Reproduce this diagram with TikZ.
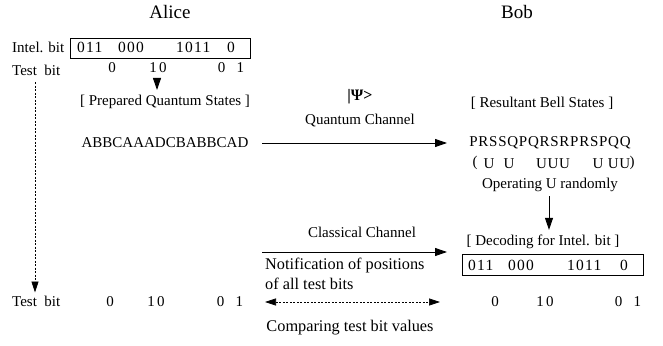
\documentclass[tikz,border=0pt]{standalone}
\usepackage{fontspec}
\setmainfont{Liberation Serif}
\usetikzlibrary{arrows.meta}
\begin{document}
\begin{tikzpicture}[x=1pt,y=-1pt,
  txt/.style={inner sep=0pt,font=\fontsize{15}{17}\selectfont},
  lbl/.style={inner sep=0pt,font=\fontsize{15}{17}\selectfont},
  lbll/.style={inner sep=0pt,font=\fontsize{16.3}{18}\selectfont},
  big/.style={inner sep=0pt,font=\fontsize{19}{21}\selectfont},
  bits/.style={inner sep=0pt,anchor=west,font=\fontsize{15.5}{17}\selectfont\addfontfeature{LetterSpace=8}},
  arr/.style={-{Triangle[length=12pt,width=8pt]},line width=0.9pt},
  darr/.style={dashed,line width=0.7pt,dash pattern=on 2pt off 1.5pt},
  bitbox/.style={draw,line width=0.8pt,inner sep=0pt}]
\useasboundingbox (0,0) rectangle (663,345);
% headers
\node[big] (alice) at (170,12) {Alice};
\node[big] (bob) at (517,12) {Bob};
% Alice top
\node[txt,anchor=west] (intel) at (12,47) {Intel. bit};
\node[bitbox,minimum width=180pt,minimum height=20pt,anchor=west] (abox) at (70,48) {};
\node[bits] (a1) at (77,47) {011};
\node[bits] (a2) at (118,47) {000};
\node[bits] (a3) at (176,47) {1011};
\node[bits] (a4) at (227,47) {0};
\node[txt,anchor=west] (tb1) at (12,70) {Test\ \ bit};
\node[txt] (t1a) at (112,68) {0};
\node[txt] (t1b) at (158,68) {1\,0};
\node[txt] (t1c) at (231,68) {0\ \ \ 1};
\coordinate (ar1s) at (157,78);
\node[lbl] (prep) at (165,102) {[ Prepared Quantum States ]};
\draw[arr] (ar1s) -- ([yshift=5pt]prep.north -| ar1s);
\node[txt] (abb) at (165,143) {ABBCAAADCBABBCAD};
% quantum channel
\node[txt,font=\fontsize{16}{18}\selectfont\bfseries] (psi) at (360,97) {|Ψ>};
\node[lbl] (qc) at (360,121) {Quantum Channel};
\coordinate (qs) at (262,143);
\coordinate (qe) at (447,143);
\draw[arr] (qs) -- (qe);
% Bob
\node[lbl] (res) at (542,103) {[ Resultant Bell States ]};
\node[txt,font=\fontsize{15}{17}\selectfont\addfontfeature{LetterSpace=5}] (prs) at (550,143) {PRSSQPQRSRPRSPQQ};
\node[txt] (pl) at (475,163) {(};
\node[txt] (u1) at (489,164) {U};
\node[txt] (u2) at (509,164) {U};
\node[txt,font=\fontsize{15}{17}\selectfont\addfontfeature{LetterSpace=4}] (u3) at (553,164) {UUU};
\node[txt] (u4) at (598,164) {U};
\node[txt,font=\fontsize{15}{17}\selectfont\addfontfeature{LetterSpace=4}] (u5) at (619,164) {UU};
\node[txt] (pr) at (632,163) {)};
\node[lbl] (op) at (550,185) {Operating U randomly};
\node[lbl] (dec) at (543,242) {[ Decoding for Intel. bit ]};
\coordinate (ar2s) at (549,196);
\draw[arr] (ar2s) -- ([yshift=5pt]dec.north -| ar2s);
\node[bitbox,minimum width=181pt,minimum height=21pt,anchor=west] (bbox) at (462,265) {};
\node[bits] (b1) at (468,265) {011};
\node[bits] (b2) at (508,265) {000};
\node[bits] (b3) at (567,265) {1011};
\node[bits] (b4) at (620,265) {0};
% classical channel
\node[lbl] (cc) at (362,232) {Classical Channel};
\coordinate (cs) at (262,252);
\coordinate (ce) at (447,252);
\draw[arr] (cs) -- (ce);
\node[lbll,anchor=west] (not1) at (265,265) {Notification of positions};
\node[lbll,anchor=west] (not2) at (265,284) {of all test bits};
% bottom
\node[txt,anchor=west] (tb2) at (12,301) {Test\ \ bit};
\node[txt] (t2a) at (110,302) {0};
\node[txt] (t2b) at (156,302) {1\,0};
\node[txt] (t2c) at (230,302) {0\ \ \ 1};
\node[txt] (t3a) at (495,302) {0};
\node[txt] (t3b) at (545,302) {1\,0};
\node[txt] (t3c) at (628,302) {0\ \ \ 1};
\coordinate (ds) at (265,302);
\coordinate (de) at (440,302);
\draw[darr,{Triangle[length=11pt,width=7pt]}-{Triangle[length=11pt,width=7pt]}] (ds) -- (de);
\node[lbll] (cmp) at (350,328) {Comparing test bit values};
% dashed vertical
\coordinate (vs) at (35,82);
\draw[darr,-{Triangle[length=11pt,width=7pt]}] (vs) -- ([yshift=3pt]tb2.north -| vs);
\end{tikzpicture}
\end{document}
